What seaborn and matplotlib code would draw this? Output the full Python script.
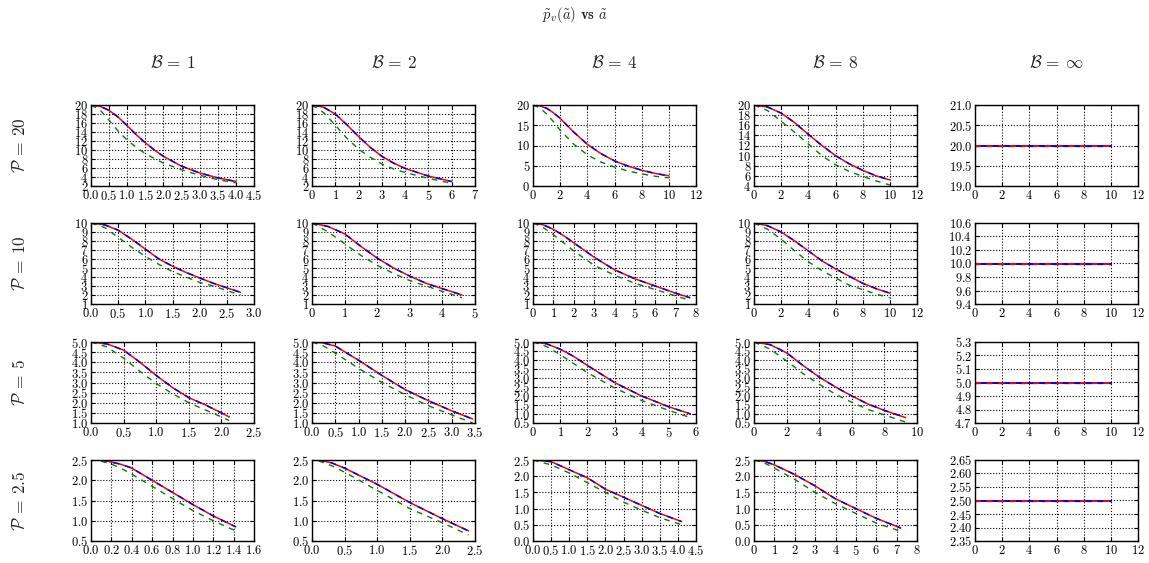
import numpy as np
import pandas as pd
import matplotlib.pyplot as plt
import seaborn as sns
from matplotlib.ticker import MultipleLocator

# column / row labels
b_labels = [r"$\mathcal{B}\,=\,1$", r"$\mathcal{B}\,=\,2$", r"$\mathcal{B}\,=\,4$",
            r"$\mathcal{B}\,=\,8$", r"$\mathcal{B}\,=\,\infty$"]
p_values = [20, 10, 5, 2.5]
p_labels = [r"$\mathcal{P}$ = 20", r"$\mathcal{P}$ = 10", r"$\mathcal{P}$ = 5", r"$\mathcal{P}$ = 2.5"]

# P = 20
a_20_1 = [0, 0.25, 0.5, 0.75, 1.0, 1.25, 1.5, 1.75, 2.0, 2.5, 3.0, 3.5, 4.0]
pv_20_1 = [20, 19.7, 18.8, 17.3, 15.4, 13.4, 11.6, 10.0, 8.6, 6.4, 4.9, 3.8, 3.0]
pg_20_1 = [20, 18.9, 16.6, 14.2, 12.2, 10.6, 9.2, 8.1, 7.1, 5.6, 4.4, 3.4, 2.7]
a_20_2 = [0, 0.5, 1, 1.5, 2, 2.5, 3, 3.5, 4, 5, 6]
pv_20_2 = [20, 19.5, 18.0, 15.6, 13.0, 10.6, 8.6, 7.1, 5.9, 4.2, 3.0]
pg_20_2 = [20, 18.3, 15.5, 12.6, 10.2, 8.4, 6.9, 5.8, 5.0, 3.7, 2.6]
a_20_4 = [0, 0.5, 1, 1.5, 2, 3, 4, 5, 6, 7, 8, 9, 10]
pv_20_4 = [20, 19.8, 19.2, 18.1, 16.7, 13.3, 10.3, 8.0, 6.2, 4.9, 3.9, 3.1, 2.5]
pg_20_4 = [20, 19.3, 17.8, 15.9, 13.8, 10.3, 7.7, 5.9, 4.7, 3.7, 3.0, 2.4, 2.0]
a_20_8 = [0, 1, 2, 3, 4, 5, 6, 7, 8, 9, 10]
pv_20_8 = [20, 19.6, 18.4, 16.5, 14.2, 12.0, 10.0, 8.4, 7.1, 6.0, 5.2]
pg_20_8 = [20, 18.9, 16.8, 14.6, 12.3, 10.0, 8.2, 6.9, 5.9, 5.0, 4.2]

# P = 10
a_10_1 = [0, 0.25, 0.5, 0.75, 1.0, 1.25, 1.5, 1.75, 2.0, 2.25, 2.5, 2.75]
pv_10_1 = [10, 9.8, 9.2, 8.2, 7.1, 6.0, 5.2, 4.5, 3.9, 3.3, 2.8, 2.3]
pg_10_1 = [10, 9.5, 8.4, 7.3, 6.3, 5.4, 4.6, 4.0, 3.4, 3.0, 2.5, 2.0]
a_10_2 = [0, 0.5, 1, 1.5, 2, 2.5, 3, 3.5, 4, 4.6]
pv_10_2 = [10, 9.6, 8.8, 7.4, 6.1, 5.0, 4.1, 3.3, 2.7, 2.0]
pg_10_2 = [10, 9.0, 7.7, 6.4, 5.3, 4.4, 3.6, 3.0, 2.4, 1.7]
a_10_4 = [0, 0.5, 1, 1.5, 2, 3, 4, 5, 6, 7, 7.7]
pv_10_4 = [10, 9.8, 9.3, 8.6, 7.8, 6.2, 4.8, 3.8, 3.0, 2.2, 1.7]
pg_10_4 = [10, 9.5, 8.7, 7.8, 6.9, 5.3, 4.2, 3.3, 2.6, 1.9, 1.4]
a_10_8 = [0, 1, 2, 3, 4, 5, 6, 7, 8, 9, 10]
pv_10_8 = [10, 9.7, 9.0, 8.0, 6.9, 5.8, 4.9, 4.1, 3.3, 2.7, 2.2]
pg_10_8 = [10, 9.3, 8.2, 6.9, 5.7, 4.7, 3.9, 3.1, 2.6, 2.1, 1.7]

# P = 5
a_5_1 = [0, 0.25, 0.5, 0.75, 1.0, 1.25, 1.5, 1.75, 2.0, 2.12]
pv_5_1 = [5.0, 4.9, 4.6, 4.0, 3.35, 2.75, 2.25, 1.9, 1.5, 1.3]
pg_5_1 = [5.0, 4.75, 4.2, 3.55, 2.95, 2.45, 2.0, 1.65, 1.3, 1.12]
a_5_2 = [0, 0.25, 0.5, 1.0, 1.5, 2.0, 2.5, 3.0, 3.45]
pv_5_2 = [5.0, 4.95, 4.8, 4.1, 3.35, 2.65, 2.1, 1.6, 1.2]
pg_5_2 = [5.0, 4.8, 4.45, 3.7, 3.0, 2.4, 1.85, 1.4, 1.0]
a_5_4 = [0, 0.5, 1, 1.5, 2, 3, 4, 5, 5.8]
pv_5_4 = [5.0, 4.9, 4.6, 4.2, 3.7, 2.75, 2.0, 1.4, 1.0]
pg_5_4 = [5.0, 4.75, 4.3, 3.8, 3.3, 2.45, 1.75, 1.2, 0.8]
a_5_8 = [0, 1, 2, 3, 4, 5, 6, 7, 8, 9.3]
pv_5_8 = [5.0, 4.85, 4.4, 3.7, 3.05, 2.5, 2.0, 1.55, 1.2, 0.8]
pg_5_8 = [5.0, 4.6, 3.95, 3.25, 2.65, 2.1, 1.65, 1.25, 0.95, 0.55]

# P = 2.5
a_25_1 = [0.1, 0.2, 0.3, 0.4, 0.6, 0.8, 1.0, 1.2, 1.42]
pv_25_1 = [2.5, 2.45, 2.39, 2.3, 2.0, 1.7, 1.4, 1.12, 0.85]
pg_25_1 = [2.47, 2.4, 2.29, 2.15, 1.85, 1.55, 1.25, 1.0, 0.75]
a_25_2 = [0.1, 0.3, 0.5, 1.0, 1.5, 2.0, 2.4]
pv_25_2 = [2.5, 2.43, 2.3, 1.9, 1.45, 1.05, 0.75]
pg_25_2 = [2.48, 2.36, 2.2, 1.75, 1.3, 0.95, 0.65]
a_25_4 = [0, 0.5, 1.0, 1.5, 2.0, 2.5, 3.0, 3.5, 4.1]
pv_25_4 = [2.5, 2.45, 2.2, 1.95, 1.6, 1.35, 1.1, 0.85, 0.6]
pg_25_4 = [2.5, 2.35, 2.1, 1.8, 1.5, 1.2, 0.95, 0.72, 0.5]
a_25_8 = [0, 0.5, 1, 2, 3, 4, 5, 6, 7.2]
pv_25_8 = [2.5, 2.46, 2.35, 2.05, 1.7, 1.3, 1.0, 0.7, 0.4]
pg_25_8 = [2.5, 2.41, 2.25, 1.9, 1.5, 1.15, 0.85, 0.55, 0.3]

# B = infinity: flat at P
a_inf = [0, 10]

curves = [
    [(a_20_1, pv_20_1, pg_20_1), (a_20_2, pv_20_2, pg_20_2), (a_20_4, pv_20_4, pg_20_4), (a_20_8, pv_20_8, pg_20_8)],
    [(a_10_1, pv_10_1, pg_10_1), (a_10_2, pv_10_2, pg_10_2), (a_10_4, pv_10_4, pg_10_4), (a_10_8, pv_10_8, pg_10_8)],
    [(a_5_1, pv_5_1, pg_5_1), (a_5_2, pv_5_2, pg_5_2), (a_5_4, pv_5_4, pg_5_4), (a_5_8, pv_5_8, pg_5_8)],
    [(a_25_1, pv_25_1, pg_25_1), (a_25_2, pv_25_2, pg_25_2), (a_25_4, pv_25_4, pg_25_4), (a_25_8, pv_25_8, pg_25_8)],
]

# axis settings: (xmax, xstep, ymin, ymax, ystep)
axis_cfg = [
    [(4.5, 0.5, 2, 20, 2), (7, 1, 2, 20, 2), (12, 2, 0, 20, 5), (12, 2, 4, 20, 2), (12, 2, 19, 21, 0.5)],
    [(3, 0.5, 1, 10, 1), (5, 1, 1, 10, 1), (8, 1, 1, 10, 1), (12, 2, 1, 10, 1), (12, 2, 9.4, 10.6, 0.2)],
    [(2.5, 0.5, 1, 5, 0.5), (3.5, 0.5, 1, 5, 0.5), (6, 1, 0.5, 5, 0.5), (10, 2, 0.5, 5, 0.5), (12, 2, 4.7, 5.3, 0.1)],
    [(1.6, 0.2, 0.5, 2.5, 0.5), (2.5, 0.5, 0.5, 2.5, 0.5), (4.5, 0.5, 0, 2.5, 0.5), (8, 1, 0, 2.5, 0.5), (12, 2, 2.35, 2.65, 0.05)],
]

sns.set_style("ticks")
plt.rcParams['font.family'] = ['cmr10', 'DejaVu Serif']
plt.rcParams['mathtext.fontset'] = 'cm'
plt.rcParams['axes.formatter.use_mathtext'] = True

W, H = 1149, 563
fig = plt.figure(figsize=(W / 100, H / 100), dpi=100)

lefts = [91, 312, 533, 754, 975]
tops = [105, 223, 342, 460]
aw, ah = 163, 81

for r in range(4):
    for c in range(5):
        ax = fig.add_axes([lefts[c] / W, 1 - (tops[r] + ah) / H, aw / W, ah / H])
        if c < 4:
            a, pv, pg = curves[r][c]
            df = pd.DataFrame({'a': a, 'pv': pv, 'pg': pg})
            sns.lineplot(data=df, x='a', y='pg', color='green', lw=1.0,
                         linestyle=(0, (4, 4)), ax=ax)
            sns.lineplot(data=df, x='a', y='pv', color='red', lw=1.1, ax=ax)
            sns.lineplot(data=df, x='a', y='pv', color='blue', lw=1.1,
                         linestyle=(0, (4, 4)), ax=ax)
        else:
            df = pd.DataFrame({'a': a_inf, 'p': [p_values[r]] * len(a_inf)})
            sns.lineplot(data=df, x='a', y='p', color='green', lw=1.0,
                         linestyle=(0, (4, 4)), ax=ax)
            sns.lineplot(data=df, x='a', y='p', color='blue', lw=1.4, ax=ax)
            sns.lineplot(data=df, x='a', y='p', color='red', lw=1.4,
                         linestyle=(0, (3, 3)), ax=ax)
        xmax, xstep, ymin, ymax, ystep = axis_cfg[r][c]
        ax.set_xlim(0, xmax)
        ax.set_ylim(ymin, ymax)
        ax.xaxis.set_major_locator(MultipleLocator(xstep))
        ax.yaxis.set_major_locator(MultipleLocator(ystep))
        ax.set_xlabel('')
        ax.set_ylabel('')
        ax.grid(True, color='black', linestyle=':', linewidth=0.8)
        ax.tick_params(direction='in', top=True, right=True, length=3,
                       width=0.8, labelsize=9, pad=2, colors='black')
        for s in ax.spines.values():
            s.set_linewidth(1.0)
            s.set_color('black')

for c in range(5):
    fig.text((lefts[c] + aw / 2) / W, 1 - 62 / H, b_labels[c],
             ha='center', va='center', fontsize=12.5)
for r in range(4):
    fig.text(20 / W, 1 - (tops[r] + ah / 2) / H, p_labels[r], rotation=90,
             ha='center', va='center', fontsize=12.5)

fig.text(0.5, 1 - 15 / H, r"$\tilde{p}_v(\tilde{a})$ $\mathbf{vs}$ $\tilde{a}$",
         ha='center', va='center', fontsize=10.5)

fig.savefig('out.png', dpi=100)
